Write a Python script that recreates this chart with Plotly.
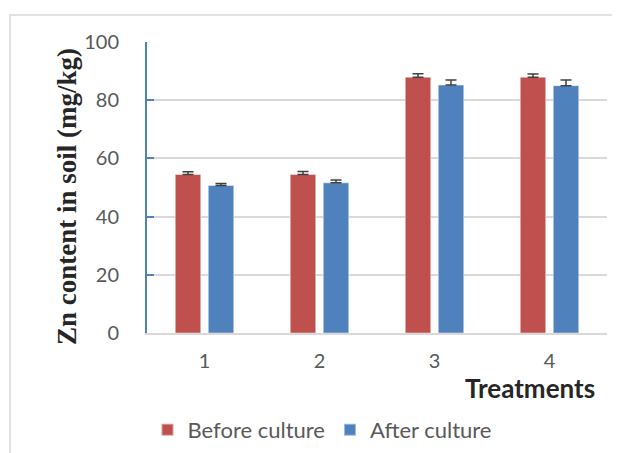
import plotly.graph_objects as go

treatments = ["1", "2", "3", "4"]
before_vals = [54.5, 54.5, 87.9, 87.9]
before_err = [0.9, 1.0, 1.2, 1.1]
after_vals = [50.7, 51.6, 85.2, 85.0]
after_err = [0.7, 1.0, 1.7, 1.9]
y_ticks = [0, 20, 40, 60, 80, 100]

# page body has an 8px margin; figure drawn at (8, 8)
OFF = 8
W, H = 620 - OFF, 453 - OFF
L, R, T, B = 147 - OFF, 13, 42 - OFF, 453 - 333
pw, ph = W - L - R, H - T - B

def px(x):
    return (x - OFF - L) / pw

def py(y):
    return (H - B - (y - OFF)) / ph

fig = go.Figure()
fig.add_trace(go.Bar(
    x=treatments, y=before_vals, name="Before culture",
    marker=dict(color="#C0504D", line=dict(color="rgba(255,255,255,0.45)", width=1)),
    error_y=dict(type="data", array=before_err, arrayminus=[0] * 4, symmetric=False,
                 color="#404040", thickness=1.5, width=5.5),
))
fig.add_trace(go.Bar(
    x=treatments, y=after_vals, name="After culture",
    marker=dict(color="#4F81BD", line=dict(color="rgba(255,255,255,0.45)", width=1)),
    error_y=dict(type="data", array=after_err, arrayminus=[0] * 4, symmetric=False,
                 color="#404040", thickness=1.5, width=5.5),
))

font_main = "Lato, 'Open Sans', sans-serif"
fig.update_layout(
    width=W, height=H,
    margin=dict(l=L, r=R, t=T, b=B, pad=0, autoexpand=False),
    paper_bgcolor="white", plot_bgcolor="white",
    barmode="group", bargap=0.426, bargroupgap=0.227,
    font=dict(family=font_main, size=20, color="#595959"),
    showlegend=True,
    legend=dict(orientation="h", x=px(322), xanchor="center", y=py(430), yanchor="middle",
                font=dict(size=22, color="#595959", family=font_main),
                itemwidth=30, traceorder="normal", itemsizing="constant"),
    xaxis=dict(showgrid=False, ticks="", showline=True, linecolor="#D9D9D9", linewidth=2,
               tickfont=dict(size=20, color="#595959"), ticklabelstandoff=9),
    yaxis=dict(range=[0, 100], tickvals=y_ticks, showgrid=True, gridcolor="#D9D9D9", gridwidth=2,
               zeroline=False, showline=True, linecolor="#4F81BD", linewidth=2,
               ticks="inside", ticklen=7, tickcolor="#4F81BD", tickwidth=2,
               tickfont=dict(size=20, color="#595959"), ticklabelstandoff=22),
    shapes=[dict(type="rect", xref="paper", yref="paper",
                 x0=px(10), x1=px(640), y0=py(470), y1=py(15),
                 line=dict(color="#D9D9D9", width=1.5), fillcolor="rgba(0,0,0,0)", layer="below")],
    annotations=[
        dict(text="<b>Treatments</b>", xref="paper", yref="paper", x=px(597), y=py(388),
             xanchor="right", yanchor="middle", showarrow=False,
             font=dict(size=26, color="#262626", family=font_main)),
        dict(text="<b>Zn content in soil (mg/kg)</b>", xref="paper", yref="paper",
             x=px(67), y=py(197), xanchor="center", yanchor="middle", textangle=-90,
             showarrow=False,
             font=dict(size=27, color="#262626", family="'Liberation Serif', 'DejaVu Serif', serif")),
    ],
)

fig.write_html("out.html")
